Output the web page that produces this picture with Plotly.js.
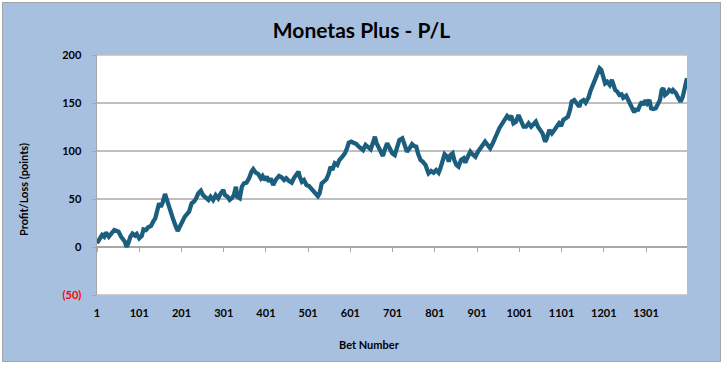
<!DOCTYPE html>
<html>
<head>
<meta charset="utf-8">
<script src="https://cdn.plot.ly/plotly-3.0.1.min.js"></script>
<style>
  html, body { margin: 0; padding: 0; background: #ffffff; }
  #chart { position: absolute; left: 2px; top: 2px; width: 717px; height: 358px; border: 1px solid #A6A6A6; }
</style>
</head>
<body>
<div id="chart"></div>
<script>
const chartTitle = "Monetas Plus - P/L";
const xTitle = "Bet Number";
const yTitle = "Profit/Loss (points)";

const xTickVals = [1,101,201,301,401,501,601,701,801,901,1001,1101,1201,1301];
const xTickText = ["1","101","201","301","401","501","601","701","801","901","1001","1101","1201","1301"];
const yTickVals = [-50,0,50,100,150,200];
const yTickText = ['<span style="color:#FF0000">(50)</span>',"0","50","100","150","200"];

const bets = [
1,3,6,13,18,22,29,34,42,48,
52,58,62,67,71,75,80,85,91,95,
101,107,111,117,122,129,134,139,144,148,
152,156,162,166,170,176,182,188,192,197,
204,209,219,225,230,235,241,247,252,259,
265,270,276,282,288,294,300,304,310,315,
320,325,330,333,339,344,349,355,361,367,
371,377,383,389,393,398,403,408,412,418,
424,432,438,444,449,455,462,467,474,478,
481,486,491,497,503,508,515,520,524,528,
533,538,544,550,554,558,564,570,575,582,
588,593,597,603,609,615,621,627,631,637,
643,649,654,659,663,668,673,678,682,688,
694,700,706,712,717,724,729,735,741,747,
752,757,761,767,772,779,783,786,792,798,
804,810,814,818,824,830,834,838,843,847,
852,857,863,869,873,879,885,890,897,903,
909,914,920,926,932,938,944,949,954,960,
965,972,977,982,987,993,999,1005,1011,1017,
1023,1029,1035,1040,1045,1050,1056,1062,1066,1072,
1078,1084,1090,1095,1100,1105,1111,1116,1121,1125,
1131,1137,1143,1147,1153,1158,1165,1169,1175,1180,
1186,1191,1195,1199,1204,1209,1215,1220,1224,1228,
1233,1238,1243,1247,1254,1259,1265,1269,1273,1277,
1281,1287,1291,1295,1300,1304,1309,1313,1318,1324,
1329,1334,1338,1342,1346,1351,1356,1362,1365,1372,
1377,1383,1388,1391,1395,1398
];

const pl = [
4,5.5,9,12.5,10.7,15,10.7,13,17.7,16.7,
16,10.7,8,5.5,0.3,3.8,10.7,14,11.8,13.5,
9,11.5,18.4,17.7,20.5,21.9,26.4,29.9,38.5,45.5,
42,45.5,55.2,49,43.8,35,28,21,16.7,21,
28,31.6,36.8,45.5,47,50,55.9,58.6,54,50.7,
49,52.4,49,54,50.7,55.9,59.4,54,52.4,49,
50.7,54,62.8,52.4,50.7,62.8,66.3,67,71.6,78.5,
81,77.4,76,71.6,74,69.8,73.3,68,71.6,64.6,
69.8,74,72.6,69.8,71.6,69,67,71.6,76,78.5,
73.3,68,69.8,64.6,63.5,61,58.6,55.2,53,55.9,
66.3,68,70.5,76.8,83.6,80.2,87.2,85.4,90.6,94,
97.6,102.8,108.6,109.7,108.6,107.3,104.5,102.8,101,106.3,
104.5,101.8,108,114.9,108,102.8,99.3,94.8,101,108,
102.8,97.6,95.8,103.5,111.5,113.2,106.3,99.3,102.8,107.2,
105.2,104.5,97.6,90.6,88.9,85.4,80.2,76.8,79.2,77.4,
80.2,77.4,82,88.9,96.6,94,88.9,95.8,97.6,90.6,
85.4,83.6,90.6,92.4,87.8,94,99.3,96.6,94,99.3,
102.8,105.2,109.7,106.3,102.8,108,113,119,124,128.8,
132.3,136.5,134,136.5,128.8,130.5,137.5,130.5,125.3,125.3,
128.8,125.3,128.8,130.5,125.3,121.9,118.4,109.7,113.2,121.9,
118.4,121.9,125.3,128.8,126,132.3,134,135.8,142.7,151.4,
153.1,150.3,146.1,151.4,153.1,150.3,155.9,162,168.8,175.7,
180.9,186.1,184.4,177.4,170.5,172.2,168.8,174,168.8,163.5,
161.8,158.3,159,155.5,157.6,153.1,147.9,144.5,140.3,144.5,
141.7,147.9,151.4,147.9,153.1,149.7,153.1,144.5,143.8,144.5,
147.9,153.1,163.5,165.3,158.3,160.1,163.5,161.8,163.5,160.1,
155.5,151.4,156.6,163.5,172.2,175.7
];

const FONT = "Lato, 'Liberation Sans', Arial, sans-serif";
const GRID = "#BFBFBF";
const AXIS = "#A6A6A6";

const traces = [{
  type: "scatter",
  mode: "lines",
  x: bets,
  y: pl,
  line: { color: "#1B5E7E", width: 4.3, shape: "linear" },
  hoverinfo: "x+y",
  showlegend: false
}];

const layout = {
  width: 717,
  height: 358,
  margin: { l: 94, r: 33, t: 52, b: 66, pad: 0 },
  paper_bgcolor: "#A8C0DF",
  plot_bgcolor: "#FFFFFF",
  font: { family: FONT, size: 11, color: "#000000" },
  showlegend: false,
  title: {
    text: chartTitle,
    font: { family: FONT, size: 21, color: "#000000", weight: "bold" },
    xref: "container", x: 0.5, xanchor: "center",
    yref: "container", y: 0.922, yanchor: "middle"
  },
  xaxis: {
    range: [1, 1398],
    anchor: "free",
    position: 0.2,
    side: "bottom",
    tickmode: "array",
    tickvals: xTickVals,
    ticktext: xTickText,
    ticks: "outside",
    ticklen: 4,
    tickwidth: 1,
    tickcolor: AXIS,
    ticklabelstandoff: 52,
    tickfont: { family: FONT, size: 11, color: "#000000", weight: "bold" },
    showgrid: false,
    zeroline: false,
    showline: false,
    fixedrange: true
  },
  yaxis: {
    range: [-50, 200],
    tickmode: "array",
    tickvals: yTickVals,
    ticktext: yTickText,
    ticks: "outside",
    ticklen: 4,
    tickcolor: AXIS,
    ticklabelstandoff: 8,
    tickfont: { family: FONT, size: 11, color: "#000000", weight: "bold" },
    showgrid: true,
    gridcolor: GRID,
    gridwidth: 1.5,
    zeroline: true,
    zerolinecolor: AXIS,
    zerolinewidth: 1.5,
    showline: true,
    linecolor: AXIS,
    linewidth: 1.5,
    fixedrange: true
  },
  shapes: [
    { type: "line", xref: "paper", yref: "paper", x0: 0, x1: 1, y0: 1, y1: 1, line: { color: GRID, width: 1.5 }, layer: "below" },
    { type: "line", xref: "paper", yref: "paper", x0: 0, x1: 1, y0: 0, y1: 0, line: { color: GRID, width: 1.5 }, layer: "below" }
  ],
  annotations: [
    {
      text: yTitle, textangle: -90,
      xref: "paper", yref: "paper", x: -0.1254, y: 0.4375,
      xanchor: "center", yanchor: "middle", showarrow: false,
      font: { family: FONT, size: 11, color: "#000000", weight: "bold" }
    },
    {
      text: xTitle,
      xref: "paper", yref: "paper", x: 0.4627, y: -0.2083,
      xanchor: "center", yanchor: "middle", showarrow: false,
      font: { family: FONT, size: 11, color: "#000000", weight: "bold" }
    }
  ]
};

Plotly.newPlot("chart", traces, layout, { displayModeBar: false, staticPlot: true });
</script>
</body>
</html>
